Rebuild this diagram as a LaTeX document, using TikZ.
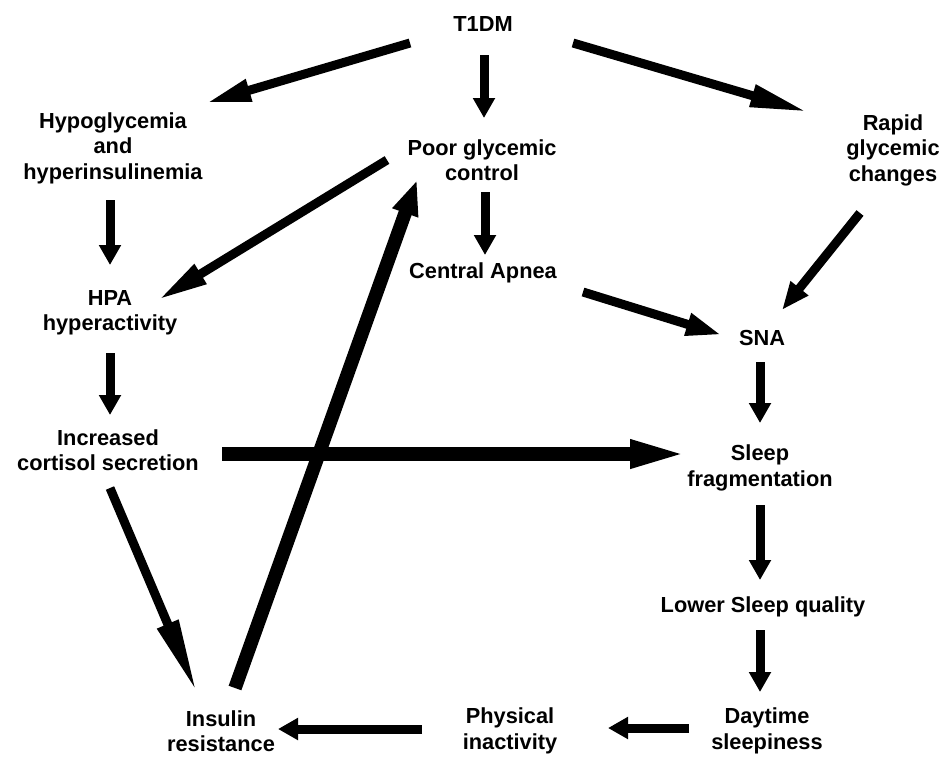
\documentclass[tikz,border=0pt]{standalone}
\usepackage{fontspec}
\setmainfont{Liberation Sans}
\usepackage{tikz}
\usetikzlibrary{arrows.meta}
\newcommand\headlen{0.38cm}
\tikzset{
  lbl/.style={font=\bfseries\fontsize{12.4}{14.5}\selectfont, align=center, inner sep=0pt},
  flow/.style={line width=0.18cm, /utils/exec={\renewcommand\headlen{#1}},
    -{Triangle[length=\headlen, width=0.42cm]}},
  flow/.default=0.4cm,
  bigflow/.style={line width=0.27cm, /utils/exec={\renewcommand\headlen{#1}},
    -{Triangle[length=\headlen, width=0.5cm]}}
}

\begin{document}
\begin{tikzpicture}[x=0.02cm, y=-0.02cm]
\useasboundingbox (0,0) rectangle (946,762);
\node[lbl] (t1dm) at (483,24) {T1DM};
\node[lbl] (hypo) at (113,148) {Hypoglycemia\\and\\hyperinsulinemia};
\node[lbl] (poor) at (482,160) {Poor glycemic\\control};
\node[lbl] (rapid) at (893,150) {Rapid\\glycemic\\changes};
\node[lbl] (central) at (483,273) {Central Apnea};
\node[lbl] (hpa) at (110,313) {HPA\\hyperactivity};
\node[lbl] (sna) at (762,338) {SNA};
\node[lbl] (cortisol) at (108,450) {Increased\\cortisol secretion};
\node[lbl] (sleep) at (760,468) {Sleep\\fragmentation};
\node[lbl] (lower) at (763,607) {Lower Sleep quality};
\node[lbl] (insulin) at (221,731) {Insulin\\resistance};
\node[lbl] (inact) at (510,731) {Physical\\inactivity};
\node[lbl] (daytime) at (767,731) {Daytime\\sleepiness};
% top row
\draw[flow=0.9cm] ([shift={(-73,19)}]t1dm.center) -- ([shift={(93,-45)}]hypo.center);
\draw[flow] ([shift={(1,31)}]t1dm.center) -- ([shift={(2,-42)}]poor.center);
\draw[flow=1.16cm] ([shift={(90,19)}]t1dm.center) -- ([shift={(-85,-38)}]rapid.center);
\draw[flow] ([shift={(-3,52)}]hypo.center) -- ([shift={(0,-48)}]hpa.center);
\draw[flow=1.0cm] ([shift={(-95,0)}]poor.center) -- ([shift={(48,-13)}]hpa.center);
\draw[flow] ([shift={(3,32)}]poor.center) -- ([shift={(2,-18)}]central.center);
\draw[flow=0.56cm] ([shift={(-33,63)}]rapid.center) -- ([shift={(20,-28)}]sna.center);
\draw[flow=0.72cm] ([shift={(100,19)}]central.center) -- ([shift={(-40,-3)}]sna.center);
\draw[flow] ([shift={(0,40)}]hpa.center) -- ([shift={(2,-35)}]cortisol.center);
\draw[flow] ([shift={(-2,24)}]sna.center) -- ([shift={(0,-45)}]sleep.center);
% the two long ones
\draw[bigflow=1.2cm] ([shift={(114,4)}]cortisol.center) -- ([shift={(-70,-14)}]sleep.center);
\draw[flow=1.5cm] ([shift={(2,38)}]cortisol.center) -- ([shift={(-24,-38)}]insulin.center);
\draw[bigflow=0.7cm] ([shift={(14,-43)}]insulin.center) -- ([shift={(-65,20)}]poor.center);
% right column and bottom row
\draw[flow] ([shift={(0,37)}]sleep.center) -- ([shift={(-3,-27)}]lower.center);
\draw[flow] ([shift={(-3,23)}]lower.center) -- ([shift={(-7,-39)}]daytime.center);
\draw[flow=0.4cm] ([shift={(-78,-3)}]daytime.center) -- ([shift={(98,-3)}]inact.center);
\draw[flow=0.4cm] ([shift={(-88,-2)}]inact.center) -- ([shift={(57,-2)}]insulin.center);
\end{tikzpicture}
\end{document}
